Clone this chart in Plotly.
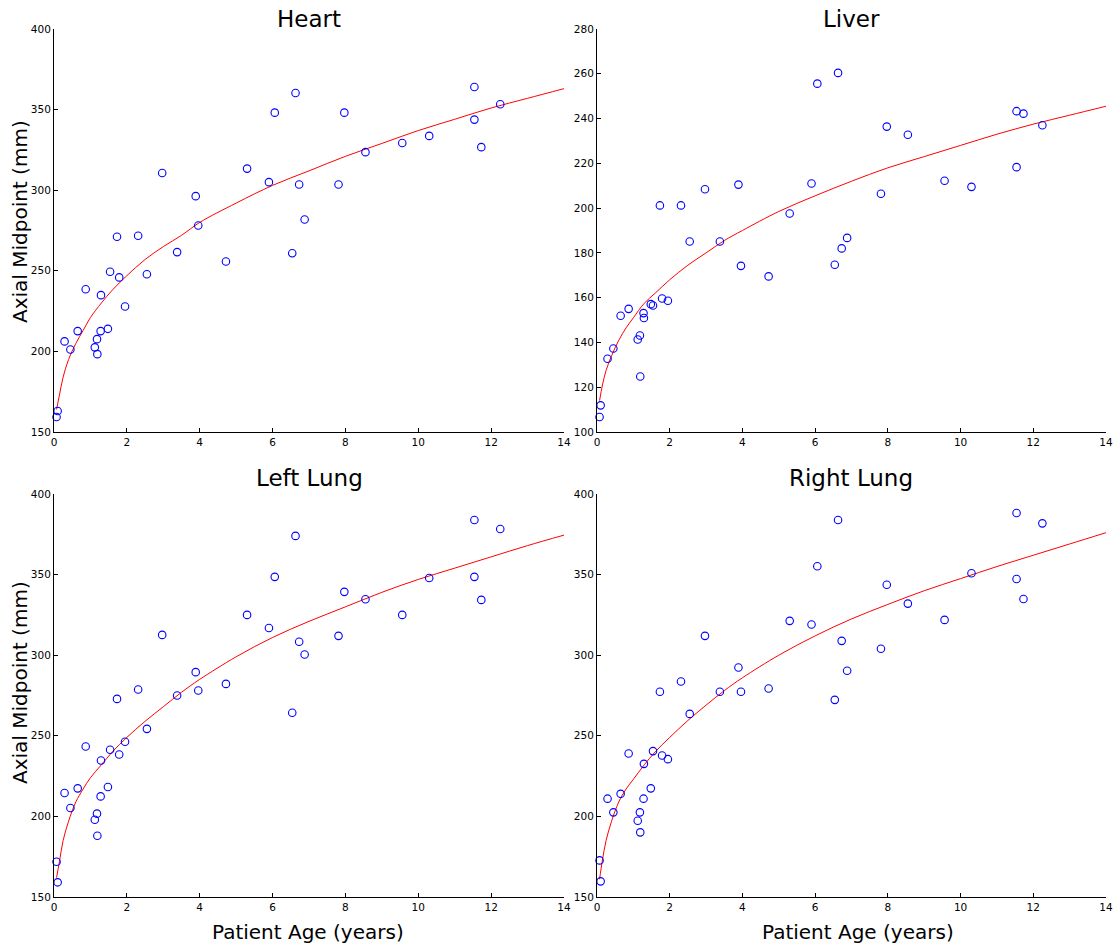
import plotly.graph_objects as go

# ---------------- data ----------------
ages = [0.07, 0.10, 0.29, 0.45, 0.65, 0.87, 1.12, 1.18, 1.19, 1.28, 1.29, 1.48, 1.54,
        1.73, 1.79, 1.95, 2.31, 2.55, 2.97, 3.38, 3.89, 3.96, 4.72, 5.30, 5.90, 6.06,
        6.54, 6.63, 6.73, 6.88, 7.81, 7.97, 8.55, 9.56, 10.30, 11.54, 11.54, 11.73, 12.25]

heart = [159.3, 163.0, 206.2, 201.2, 212.6, 238.6, 202.5, 207.6, 198.3, 212.6, 234.9,
         214.0, 249.4, 271.1, 245.9, 227.9, 271.7, 247.9, 310.7, 261.6, 296.3, 278.1,
         255.8, 313.4, 305.0, 348.1, 260.9, 360.3, 303.5, 281.8, 303.5, 348.1, 323.6,
         329.3, 333.7, 364.0, 343.8, 326.7, 353.3]

liver = [106.7, 111.9, 132.7, 137.3, 151.9, 155.0, 141.3, 143.1, 124.8, 153.1, 150.9,
         157.1, 156.5, 201.2, 159.6, 158.6, 201.2, 185.1, 208.4, 185.1, 210.5, 174.2,
         169.5, 197.6, 211.0, 255.6, 174.7, 260.4, 182.0, 186.7, 206.4, 236.4, 232.8,
         212.2, 209.5, 243.3, 218.3, 242.2, 237.0]

left_lung = [171.9, 159.1, 214.5, 205.2, 217.4, 243.4, 197.9, 201.7, 188.0, 212.4, 234.7,
             218.2, 241.3, 272.9, 238.4, 246.3, 278.7, 254.3, 312.6, 275.0, 289.5, 278.1,
             282.2, 325.0, 316.9, 348.6, 264.3, 374.0, 308.3, 300.4, 312.0, 339.3, 334.7,
             325.0, 347.9, 383.9, 348.6, 334.3, 378.3]

right_lung = [172.7, 159.7, 211.0, 202.5, 214.0, 239.0, 197.3, 202.5, 190.1, 211.0, 232.6,
              217.4, 240.5, 277.3, 237.8, 235.5, 283.7, 263.6, 312.0, 277.3, 292.4, 277.3,
              279.3, 321.3, 319.0, 355.2, 272.3, 383.9, 308.9, 290.4, 304.0, 343.7, 332.0,
              321.9, 350.8, 388.2, 347.3, 334.9, 381.8]

# fitted curves
fit_x = [0.07, 0.15, 0.25, 0.4, 0.6, 0.8, 1.0, 1.3, 1.6, 2.0, 2.5, 3.0, 3.5, 4.0,
         5, 6, 7, 8, 9, 10, 11, 12, 13, 14]
heart_fit = [164, 173, 184, 195, 205, 213, 221, 230, 238, 247, 257, 265, 272, 280,
             292, 303, 312, 321, 329, 337, 344, 351, 357, 363]
liver_fit = [114, 121, 127.5, 134, 141, 146.5, 151, 157.5, 162, 168, 174.5, 180, 185.5, 190,
             198.5, 205.5, 212, 218, 223, 228, 233, 237.5, 241.5, 245.5]
left_fit = [162, 172, 185, 197, 209, 217, 224, 232, 240, 249, 259, 268, 277, 285,
            299, 311, 321, 330, 339, 347, 354, 361, 368, 374.5]
right_fit = [161, 173, 185, 197, 209, 217, 223, 232, 240, 249, 259.5, 269, 278, 286,
             300, 312, 322.5, 331.5, 340, 347.5, 355, 362, 369, 376]

titles = ["Heart", "Liver", "Left Lung", "Right Lung"]
x_title = "Patient Age (years)"
y_title = "Axial Midpoint (mm)"

panels = [
    (heart, heart_fit, [150, 400], 50),
    (liver, liver_fit, [100, 280], 20),
    (left_lung, left_fit, [150, 400], 50),
    (right_lung, right_fit, [150, 400], 50),
]

W, H = 1116, 944
FONT = "DejaVu Sans"

# pixel layout of the four axes boxes (left, right, top, bottom)
boxes = [(54, 564, 29, 432), (597, 1106, 29, 432),
         (54, 564, 494, 897), (597, 1106, 494, 897)]

fig = go.Figure()
layout = dict(
    width=W, height=H,
    margin=dict(l=0, r=0, t=0, b=0, pad=0, autoexpand=False),
    paper_bgcolor="white", plot_bgcolor="white",
    showlegend=False,
    font=dict(family=FONT, color="black", size=10),
)

for i, ((vals, fit, yr, dt), (l, r, t, b)) in enumerate(zip(panels, boxes)):
    n = "" if i == 0 else str(i + 1)
    xa, ya = "x" + n, "y" + n
    fig.add_trace(go.Scatter(x=fit_x, y=fit, mode="lines", xaxis=xa, yaxis=ya,
                             line=dict(color="#ff0000", width=1, shape="spline"),
                             hoverinfo="skip"))
    fig.add_trace(go.Scatter(x=ages, y=vals, mode="markers", xaxis=xa, yaxis=ya,
                             cliponaxis=False,
                             marker=dict(symbol="circle-open", size=7.5, color="#0000ff",
                                         line=dict(width=1.1, color="#0000ff"))))
    axis_common = dict(showgrid=False, zeroline=False, showline=True, linecolor="black",
                       linewidth=1, ticks="inside", ticklen=4, tickwidth=1, tickcolor="black",
                       automargin=False,
                       tickfont=dict(family=FONT, size=10.5, color="black"))
    layout["xaxis" + n] = dict(domain=[l / W, r / W], range=[0, 14], dtick=2, tick0=0,
                               anchor=ya, **axis_common)
    layout["yaxis" + n] = dict(domain=[1 - b / H, 1 - t / H], range=yr, dtick=dt, tick0=0,
                               anchor=xa, **axis_common)

fig.update_layout(**layout)

ann = []
title_pos = [(309, 19), (851, 19), (309, 478), (851, 478)]
for txt, (px, py) in zip(titles, title_pos):
    ann.append(dict(text=txt, x=px / W, y=1 - py / H, xref="paper", yref="paper",
                    xanchor="center", yanchor="middle", showarrow=False,
                    font=dict(family=FONT, size=23, color="black")))
for py in (222, 683):
    ann.append(dict(text=y_title, x=20 / W, y=1 - py / H, xref="paper", yref="paper",
                    xanchor="center", yanchor="middle", textangle=-90, showarrow=False,
                    font=dict(family=FONT, size=20, color="black")))
for px in (308, 858):
    ann.append(dict(text=x_title, x=px / W, y=1 - 932 / H, xref="paper", yref="paper",
                    xanchor="center", yanchor="middle", showarrow=False,
                    font=dict(family=FONT, size=20, color="black")))
fig.update_layout(annotations=ann)

fig.write_html("out.html")
